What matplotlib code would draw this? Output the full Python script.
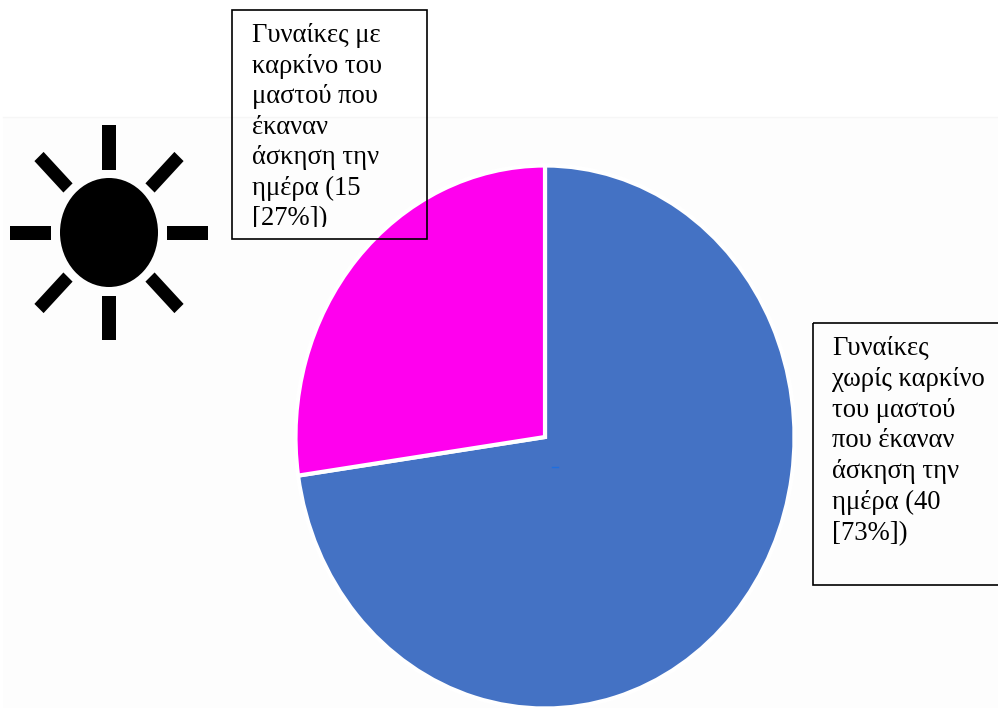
from matplotlib import pyplot as plt
from matplotlib.patches import Ellipse, Polygon, Rectangle
import numpy as np

plt.rcParams['font.family'] = ['Liberation Serif', 'DejaVu Serif']

# women who exercised during the day
values = [40, 15]
colors = ["#4472C4", "#FF00EE"]
labels_cancer = ["Γυναίκες με", "καρκίνο του", "μαστού που", "έκαναν",
                 "άσκηση την", "ημέρα (15", "[27%])"]
labels_healthy = ["Γυναίκες", "χωρίς καρκίνο", "του μαστού", "που έκαναν",
                  "άσκηση την", "ημέρα (40", "[73%])"]
ray_angles = [0, 45, 90, 135, 180, 225, 270, 315]

W, H = 998, 708


def px_axes(fig, left, top, right, bottom):
    # axes placed with pixel edges, origin at the top left
    return fig.add_axes([left / W, 1 - bottom / H, (right - left) / W, (bottom - top) / H])


def draw_sun(ax, cx, cy):
    ax.add_patch(Ellipse((cx, cy), 98, 109, fc="black", ec="none"))
    c = np.array([cx, cy])
    for a in ray_angles:
        rad = np.radians(a)
        d = np.array([np.cos(rad), np.sin(rad)])
        n = np.array([-d[1], d[0]])
        # the sun is stretched vertically, so rays start and end on ellipses
        p0 = c + d * (58, 63)
        p1 = c + d * (99, 107.5)
        half = 7 if a % 90 == 0 else 6.5
        ax.add_patch(Polygon([p0 + n * half, p1 + n * half, p1 - n * half, p0 - n * half],
                             fc="black", ec="none"))


def draw_box(ax, left, top, right, bottom, lines, x, y0, step):
    box = Rectangle((left, top), right - left, bottom - top, fc="none", ec="black", lw=1.2, zorder=5)
    ax.add_patch(box)
    # text running past the inner margin gets cut off
    clip = Rectangle((left, top), right - left, bottom - 12 - top, transform=ax.transData)
    for i, line in enumerate(lines):
        t = ax.text(x, y0 + i * step, line, fontsize=19.2, color="black",
                    va="baseline", ha="left", zorder=6)
        t.set_clip_on(True)
        t.set_clip_path(clip)


fig = plt.figure(figsize=(W / 100, H / 100), dpi=100, facecolor="white")

# pale backdrop under the pie area
bg = px_axes(fig, 0, 0, W, H)
bg.set_xlim(0, W)
bg.set_ylim(H, 0)
bg.axis("off")
bg.add_patch(Rectangle((3, 117), W - 3, H - 117, fc="#FDFDFD", ec="none"))
bg.plot([3, W], [117, 117], color="#F6F6F6", lw=1)

# the pie is stretched a bit taller than wide
ax = px_axes(fig, 295.5, 165.5, 794.5, 708.5)
ax.pie(values, colors=colors, startangle=90 + 360 * values[1] / sum(values), radius=1,
       wedgeprops={"edgecolor": "white", "linewidth": 3})
ax.set_aspect("auto")
ax.set_xlim(-1, 1)
ax.set_ylim(-1, 1)

top = px_axes(fig, 0, 0, W, H)
top.set_xlim(0, W)
top.set_ylim(H, 0)
top.axis("off")
top.patch.set_alpha(0)
top.plot([552, 558], [467, 467], color="#1F6FE0", lw=1)

draw_sun(top, 109, 232.5)
draw_box(top, 232.5, 9.5, 427.5, 239, labels_cancer, 252, 42, 30.6)
draw_box(top, 813, 322.5, 1003, 584.5, labels_healthy, 832, 355, 30.8)

plt.savefig("out.png", dpi=100)
plt.close()
